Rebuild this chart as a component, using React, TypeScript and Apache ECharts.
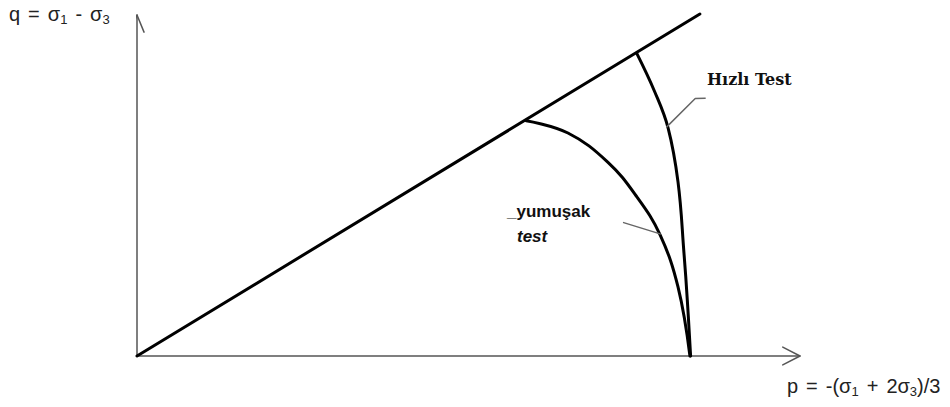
import React, { useEffect, useRef } from "react";
import * as echarts from "echarts";

// Stress path diagram in p–q space (arbitrary units, p and q from 0 to 10)
const failureLine: [number, number][] = [
  [0, 0],
  [8.49, 10],
];

// Fast (undrained) test stress path
const hizliTest: [number, number][] = [
  [7.54, 8.84],
  [7.81, 7.72],
  [8.01, 6.67],
  [8.16, 5.09],
  [8.25, 3.01],
  [8.3, 1.64],
  [8.35, 0],
];

// Slow (soft) test stress path
const yumusakTest: [number, number][] = [
  [5.87, 6.88],
  [6.5, 6.52],
  [7.1, 5.67],
  [7.54, 4.65],
  [7.89, 3.54],
  [8.16, 2.02],
  [8.34, 0],
];

// Leader lines from the labels to their curves
const hizliLeader: [number, number][] = [
  [7.99, 6.7],
  [8.42, 7.53],
  [8.57, 7.54],
];
const yumusakLeader: [number, number][] = [
  [7.34, 3.9],
  [7.89, 3.57],
];

// Axes with open arrow heads
const pAxis: [number, number][] = [
  [0, 0],
  [10, 0],
];
const pArrow: [number, number][] = [
  [9.74, 0.26],
  [10, 0],
  [9.74, -0.26],
];
const qAxis: [number, number][] = [
  [0, 0],
  [0, 9.97],
];
const qArrow: [number, number][] = [
  [-0.106, 9.47],
  [0, 9.97],
  [0.106, 9.47],
];

const axisColor = "#555";
const sansFont = '"Liberation Sans", Arial, sans-serif';

function lineSeries(
  data: [number, number][],
  color: string,
  width: number,
  smooth: number | boolean = false
) {
  return {
    type: "line",
    data,
    smooth,
    symbol: "none",
    clip: false,
    silent: true,
    lineStyle: { color, width, cap: "round", join: "round" },
  };
}

// Rich-text styles for the axis titles: main text, subscripts and word gaps
const titleRich = {
  a: { fontSize: 20, fontFamily: sansFont, fill: "#222", color: "#222", lineHeight: 24 },
  s: {
    fontSize: 13,
    fontFamily: sansFont,
    fill: "#222",
    color: "#222",
    lineHeight: 24,
    verticalAlign: "bottom",
  },
  g: { fontSize: 20, fontFamily: sansFont, lineHeight: 24, width: 8 },
};

export default function App() {
  const ref = useRef<HTMLDivElement>(null);

  useEffect(() => {
    if (!ref.current) return;
    const chart = echarts.init(ref.current, undefined, { renderer: "svg" });
    chart.setOption({
      animation: false,
      backgroundColor: "#fff",
      grid: { left: 137, right: 150, top: 14, bottom: 51 },
      xAxis: { type: "value", min: 0, max: 10, show: false },
      yAxis: { type: "value", min: 0, max: 10, show: false },
      series: [
        lineSeries(pAxis, axisColor, 1.5),
        lineSeries(pArrow, axisColor, 1.5),
        lineSeries(qAxis, axisColor, 1.5),
        lineSeries(qArrow, axisColor, 1.5),
        lineSeries(failureLine, "#000", 3),
        lineSeries(hizliTest, "#000", 3, 0.4),
        lineSeries(yumusakTest, "#000", 3, 0.4),
        lineSeries(hizliLeader, "#666", 1.5),
        lineSeries(yumusakLeader, "#666", 1.5),
      ],
      graphic: [
        {
          type: "text",
          x: 9,
          y: 14,
          style: {
            text: "{a|q}{g| }{a|=}{g| }{a|σ}{s|1}{g| }{a|-}{g| }{a|σ}{s|3}",
            rich: titleRich,
            verticalAlign: "middle",
          },
        },
        {
          type: "text",
          x: 787,
          y: 386,
          style: {
            text: "{a|p}{g| }{a|=}{g| }{a|-(σ}{s|1}{g| }{a|+}{g| }{a|2σ}{s|3}{a|)/3}",
            rich: titleRich,
            verticalAlign: "middle",
          },
        },
        {
          type: "text",
          x: 707,
          y: 79,
          style: {
            text: "Hızlı Test",
            font: 'bold 16px "DejaVu Serif", "Liberation Serif", serif',
            fill: "#111",
            verticalAlign: "middle",
          },
        },
        {
          type: "text",
          x: 507,
          y: 211,
          style: {
            text: "_yumuşak",
            font: "bold 17px " + sansFont,
            fill: "#111",
            verticalAlign: "middle",
          },
        },
        {
          type: "text",
          x: 517,
          y: 236,
          style: {
            text: "test",
            font: "italic bold 17px " + sansFont,
            fill: "#111",
            verticalAlign: "middle",
          },
        },
      ],
    });
    return () => chart.dispose();
  }, []);

  return (
    <div
      ref={ref}
      style={{ position: "fixed", left: 0, top: 0, width: 950, height: 407 }}
    />
  );
}
